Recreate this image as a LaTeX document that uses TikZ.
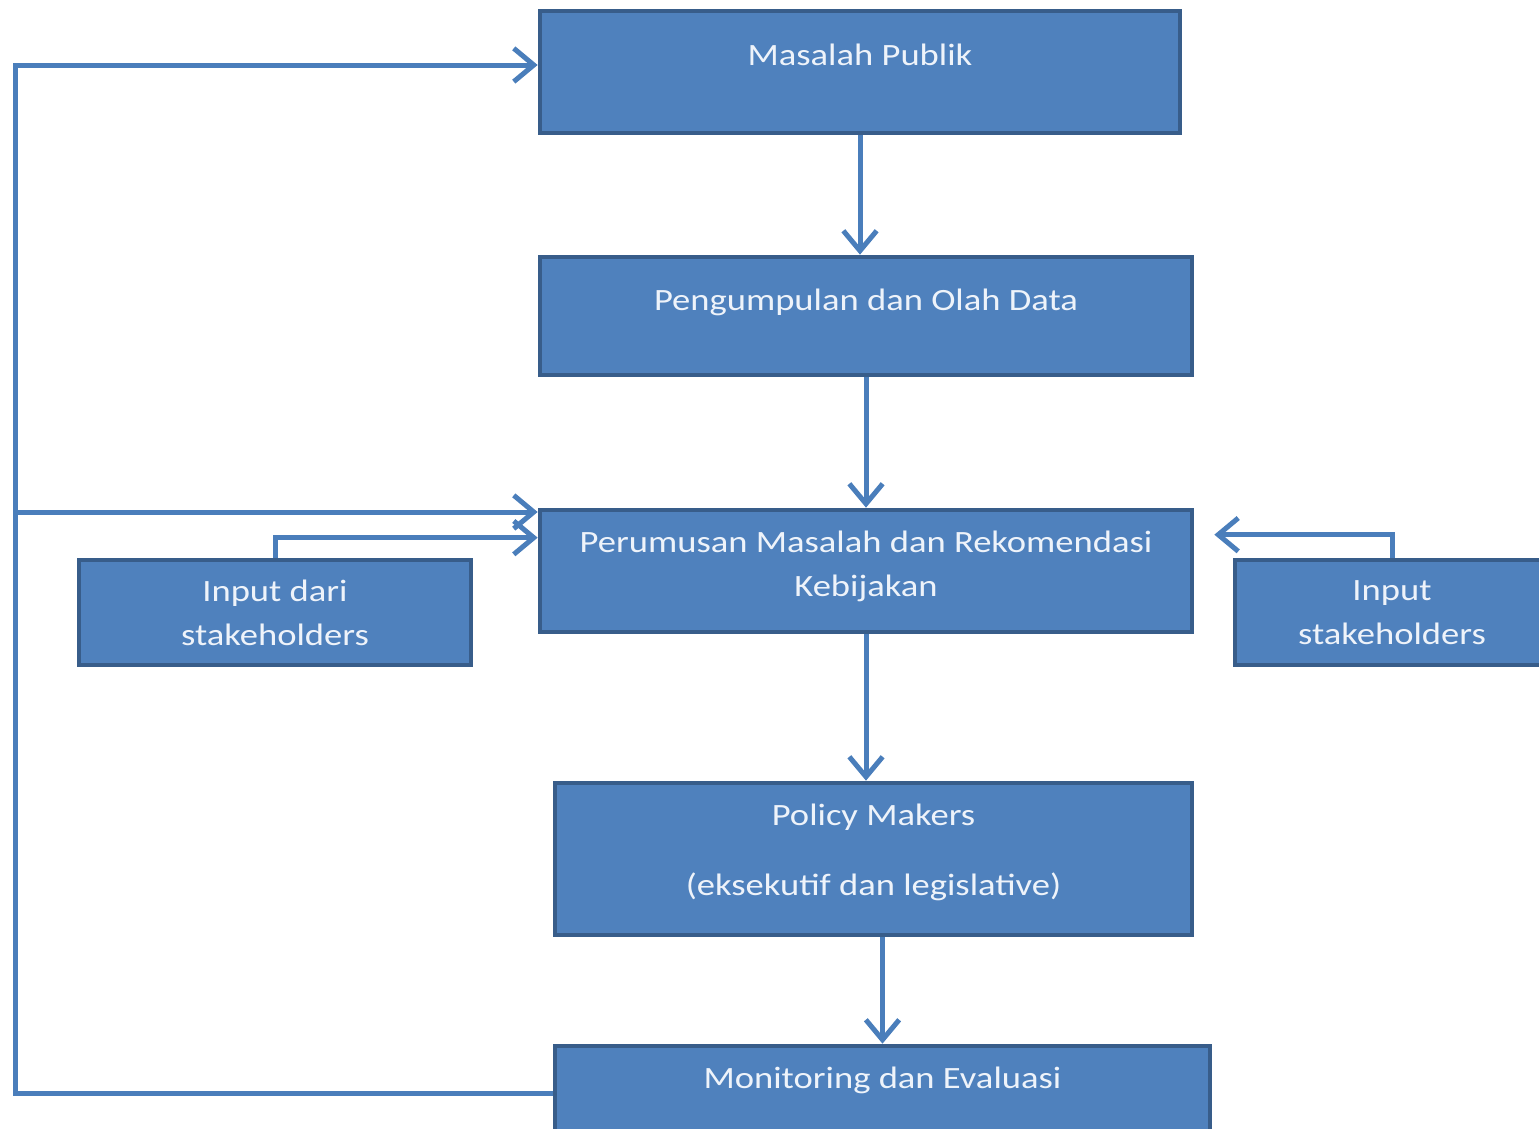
\documentclass[tikz,border=0pt]{standalone}
\usepackage{fontspec}
\setmainfont[FakeStretch=1.18]{Carlito}
\usetikzlibrary{arrows.meta}
\definecolor{boxfill}{HTML}{4F81BD}
\definecolor{boxline}{HTML}{385D8A}
\definecolor{flowcol}{HTML}{4A7EBB}
\definecolor{textcol}{HTML}{EEF3FA}

\begin{document}
\begin{tikzpicture}[x=0.3pt,y=-0.3pt,line join=miter,
    >={Straight Barb[length=6pt,width=10pt]},
    box/.style={draw=boxline,fill=boxfill,line width=1.4pt,inner sep=0pt,
      text=textcol,font=\fontsize{9.3pt}{13.2pt}\selectfont,align=center},
    flow/.style={->,draw=flowcol,line width=1.5pt}]
      %%
      \useasboundingbox (0,0) rectangle (1539,1128);
      \clip (0,0) rectangle (1539,1128);
      \node (masalah) at (860,72) [box,minimum width=192pt,text height=16.2pt,text depth=20.4pt] {Masalah Publik};
      \node (pengumpulan) at (866,316) [box,minimum width=195.6pt,text height=15.9pt,text depth=19.5pt] {Pengumpulan dan Olah Data};
      \node (perumusan) at (866,571) [box,minimum width=195.6pt,text height=25.8pt,text depth=10.8pt] {Perumusan Masalah dan Rekomendasi\\Kebijakan};
      \node (inputdari) at (275,612.5) [box,minimum width=117.6pt,minimum height=31.5pt] {Input dari\\stakeholders};
      \node (inputsh) at (1392,612.5) [box,minimum width=94.2pt,minimum height=31.5pt] {Input\\stakeholders};
      \node (policy) at (873.5,859) [box,minimum width=191.1pt,text height=33.6pt,text depth=12pt] {Policy Makers\\[7.8pt](eksekutif dan legislative)};
      \node (monitoring) at (882.5,1093) [box,minimum width=196.5pt,text height=12.6pt,text depth=15.6pt] {Monitoring dan Evaluasi};
      \coordinate (corner) at (15,65);
      \coordinate (branch) at (15,512);
      \draw [flow] (masalah) -- (masalah |- pengumpulan.north);
      \draw [flow] (pengumpulan) -- (perumusan);
      \draw [flow] (perumusan) -- (perumusan |- policy.north);
      \draw [flow] (policy.south -| monitoring) -- (monitoring);
      \draw [flow] (monitoring.west) -| (corner) -- (corner -| masalah.west);
      \draw [flow] (branch) -- (branch -| perumusan.west);
      \draw [flow] (inputdari.north) |- ([yshift=-9pt]perumusan.north west);
      \draw [flow] (inputsh.north) |- ([xshift=6pt,yshift=-8.1pt]perumusan.north east);
\end{tikzpicture}
\end{document}
